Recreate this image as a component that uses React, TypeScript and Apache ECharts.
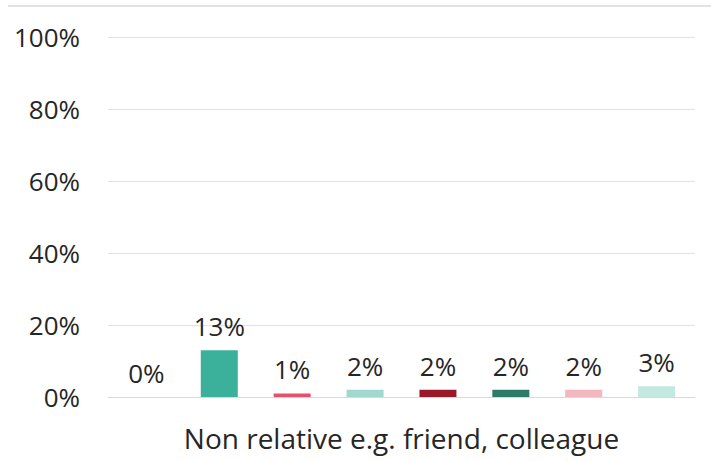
import React, { useEffect, useRef } from "react";
import * as echarts from "echarts";

const categories = ["Non relative e.g. friend, colleague"];
const seriesNames = ["S1", "S2", "S3", "S4", "S5", "S6", "S7", "S8"];
const seriesValues = [0, 13, 1, 2, 2, 2, 2, 3];
const seriesColors = ["#3BB09A", "#3BB09A", "#E8506A", "#9FD8CD", "#9A1828", "#2E7A68", "#F2B7BF", "#C2E8E2"];
const yTicks = [0, 20, 40, 60, 80, 100];

export default function App() {
  const ref = useRef<HTMLDivElement>(null);
  useEffect(() => {
    const chart = echarts.init(ref.current!, null, { renderer: "svg" });
    const font = "'Open Sans', 'Noto Sans', sans-serif";
    chart.setOption({
      animation: false,
      backgroundColor: "#ffffff",
      grid: { left: 108, right: 16, top: 37, bottom: 64, containLabel: false },
      graphic: [
        {
          type: "line",
          shape: { x1: 8, y1: 6, x2: 711, y2: 6 },
          style: { stroke: "#d9d9d9", lineWidth: 1.5 },
        },
      ],
      xAxis: {
        type: "category",
        data: categories,
        axisTick: { show: false },
        axisLine: { show: true, lineStyle: { color: "#d9d9d9", width: 1 } },
        axisLabel: { color: "#262626", fontSize: 28, fontFamily: font, margin: 27 },
      },
      yAxis: {
        type: "value",
        min: yTicks[0],
        max: yTicks[yTicks.length - 1],
        interval: 20,
        axisLine: { show: false },
        axisTick: { show: false },
        splitLine: { lineStyle: { color: "#e3e3e3", width: 1 } },
        axisLabel: {
          color: "#262626",
          fontSize: 26,
          fontFamily: font,
          margin: 28,
          formatter: (v: number) => v + "%",
        },
      },
      series: seriesNames.map((name, i) => ({
        name,
        type: "bar",
        data: [seriesValues[i]],
        barWidth: 37,
        barGap: "97%",
        itemStyle: { color: seriesColors[i] },
        label: {
          show: true,
          position: "top",
          distance: 11,
          color: "#262626",
          fontSize: 26,
          fontFamily: font,
          formatter: (p: any) => p.value + "%",
        },
      })),
    });
    return () => chart.dispose();
  }, []);
  return <div ref={ref} style={{ width: 711, height: 461, position: "absolute", left: 0, top: 0 }} />;
}
